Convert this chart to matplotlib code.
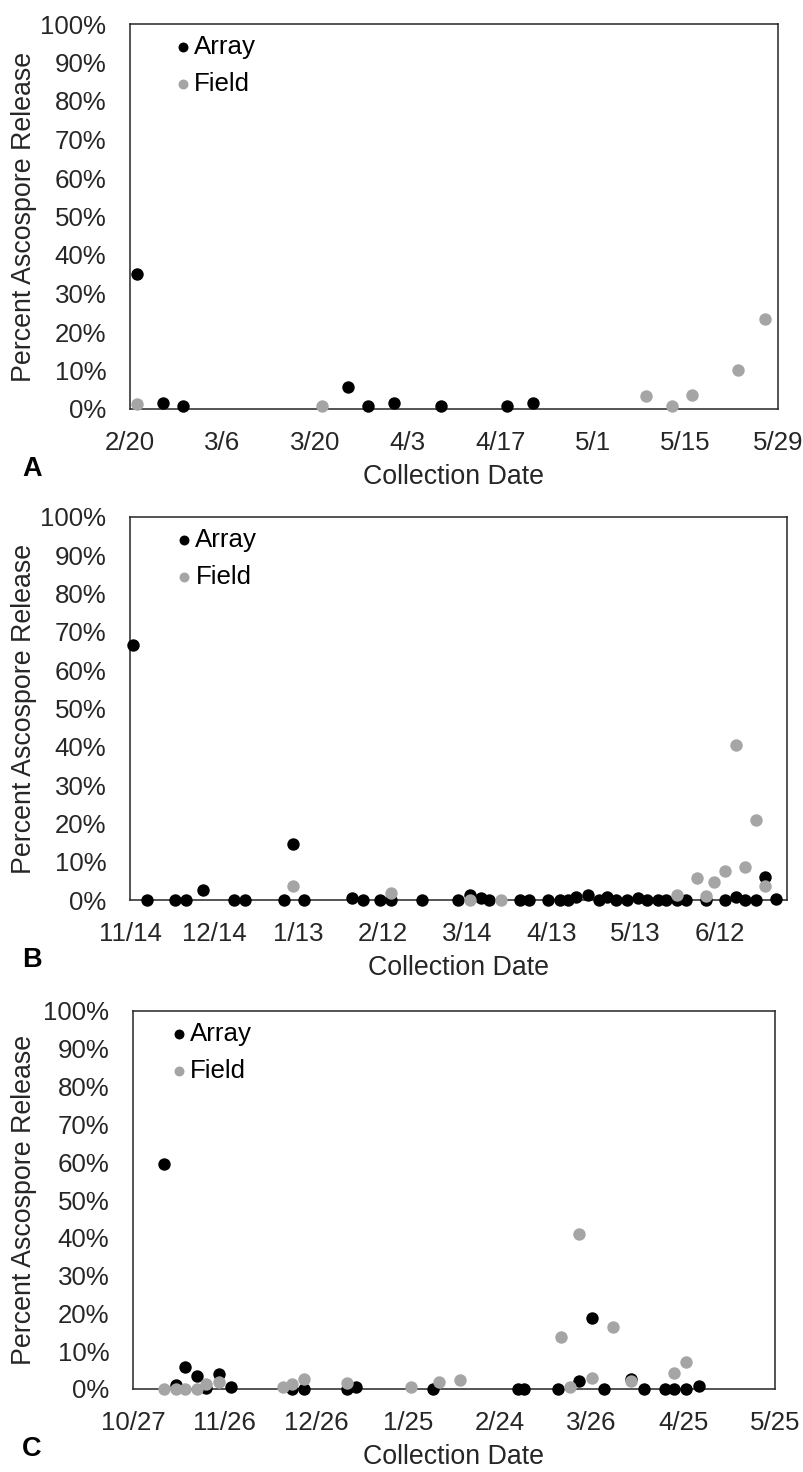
import datetime as dt
import numpy as np
import matplotlib
matplotlib.use('Agg')
import matplotlib.pyplot as plt
import matplotlib.dates as mdates
from matplotlib.ticker import FuncFormatter, MultipleLocator, PercentFormatter

plt.rcParams['font.family'] = ['Liberation Sans', 'DejaVu Sans']

W, H = 804, 1472
FS = 18.6        # tick labels / legend
FS_TITLE = 19.3  # axis titles
ARRAY_COLOR = 'black'
FIELD_COLOR = '#A5A5A5'
TEXT_COLOR = '#262626'

# ---- panel A ----
a_array_dates = ['2018-02-21', '2018-02-25', '2018-02-28', '2018-03-25', '2018-03-28',
                 '2018-04-01', '2018-04-08', '2018-04-18', '2018-04-22']
a_array_pct = [35.0, 1.6, 0.7, 5.6, 0.7, 1.6, 0.7, 0.7, 1.6]
a_field_dates = ['2018-02-21', '2018-03-21', '2018-05-09', '2018-05-13', '2018-05-16',
                 '2018-05-23', '2018-05-27']
a_field_pct = [1.2, 0.9, 3.4, 0.7, 3.7, 10.1, 23.4]

# ---- panel B ----
b_array_dates = ['2014-11-15', '2014-11-20', '2014-11-30', '2014-12-04', '2014-12-10',
                 '2014-12-21', '2014-12-25', '2015-01-08', '2015-01-11', '2015-01-15',
                 '2015-02-01', '2015-02-05', '2015-02-11', '2015-02-15', '2015-02-26',
                 '2015-03-11', '2015-03-15', '2015-03-19', '2015-03-22', '2015-04-02',
                 '2015-04-05', '2015-04-12', '2015-04-16', '2015-04-19', '2015-04-22',
                 '2015-04-26', '2015-04-30', '2015-05-03', '2015-05-06', '2015-05-10',
                 '2015-05-14', '2015-05-17', '2015-05-21', '2015-05-24', '2015-05-28',
                 '2015-05-31', '2015-06-07', '2015-06-14', '2015-06-18', '2015-06-21',
                 '2015-06-25', '2015-06-28', '2015-07-02']
b_array_pct = [66.5, 0, 0, 0, 2.7,
               0, 0, 0, 14.7, 0,
               0.4, 0, 0, 0, 0,
               0, 1.2, 0.4, 0, 0,
               0, 0, 0, 0, 0.9,
               1.3, 0, 0.7, 0, 0,
               0.5, 0, 0, 0, 0,
               0, 0, 0, 0.9, 0,
               0, 5.9, 0.2]
b_field_dates = ['2015-01-11', '2015-02-15', '2015-03-15', '2015-03-26', '2015-05-28',
                 '2015-06-04', '2015-06-07', '2015-06-10', '2015-06-14', '2015-06-18',
                 '2015-06-21', '2015-06-25', '2015-06-28']
b_field_pct = [3.6, 1.9, 0, 0, 1.4, 5.8, 1.1, 4.8, 7.6, 40.4, 8.5, 20.8, 3.6]

# ---- panel C ----
c_array_dates = ['2016-11-06', '2016-11-10', '2016-11-13', '2016-11-17', '2016-11-20',
                 '2016-11-24', '2016-11-28', '2016-12-18', '2016-12-22', '2017-01-05',
                 '2017-01-08', '2017-02-02', '2017-03-02', '2017-03-04', '2017-03-15',
                 '2017-03-22', '2017-03-26', '2017-03-30', '2017-04-08', '2017-04-12',
                 '2017-04-19', '2017-04-22', '2017-04-26', '2017-04-30']
c_array_pct = [59.4, 1.0, 5.8, 3.4, 0.2,
               4.1, 0.5, 0, 0, 0,
               0.6, 0, 0, 0, 0,
               2.1, 18.7, 0, 2.6, 0,
               0, 0, 0, 0.7]
c_field_dates = ['2016-11-06', '2016-11-10', '2016-11-13', '2016-11-17', '2016-11-20',
                 '2016-11-24', '2016-12-15', '2016-12-18', '2016-12-22', '2017-01-05',
                 '2017-01-26', '2017-02-04', '2017-02-11', '2017-03-16', '2017-03-19',
                 '2017-03-22', '2017-03-26', '2017-04-02', '2017-04-08', '2017-04-22',
                 '2017-04-26']
c_field_pct = [0, 0, 0, 0, 1.3,
               1.9, 0.6, 1.3, 2.7, 1.5,
               0.4, 1.8, 2.3, 13.7, 0.6,
               40.9, 3.0, 16.3, 2.0, 4.3,
               7.2]


def to_num(dates):
    return mdates.date2num([dt.datetime.strptime(d, '%Y-%m-%d') for d in dates])


def month_day(v, pos):
    d = mdates.num2date(v)
    return f'{d.month}/{d.day}'


fig = plt.figure(figsize=(W / 100, H / 100), dpi=100)


def panel(box, letter, start, end, step, arr_d, arr_p, fld_d, fld_p, leg_x):
    # box is (left, top, right, bottom) of the plot frame in pixels from the top-left
    left, top, right, bottom = box
    w, h = right - left, bottom - top
    ax = fig.add_axes([left / W, 1 - bottom / H, w / W, h / H])
    ax.scatter(to_num(arr_d), arr_p, s=80, color=ARRAY_COLOR, linewidths=0,
               clip_on=False, zorder=3, label='Array')
    ax.scatter(to_num(fld_d), fld_p, s=80, color=FIELD_COLOR, linewidths=0,
               clip_on=False, zorder=4, label='Field')

    x0, x1 = to_num([start, end])
    ax.set_xlim(x0, x1)
    ax.set_ylim(0, 100)
    ax.set_xticks(np.arange(x0, x1 + 0.5, step))
    ax.xaxis.set_major_formatter(FuncFormatter(month_day))
    ax.yaxis.set_major_locator(MultipleLocator(10))
    ax.yaxis.set_major_formatter(PercentFormatter(100, decimals=0))
    ax.tick_params(axis='both', length=0, labelsize=FS, colors=TEXT_COLOR)
    ax.tick_params(axis='y', pad=17)
    ax.tick_params(axis='x', pad=16)
    for sp in ax.spines.values():
        sp.set_color('#262626')
        sp.set_linewidth(1.1)

    ax.set_xlabel('Collection Date', fontsize=FS_TITLE, color=TEXT_COLOR)
    ax.xaxis.label.set_verticalalignment('center')
    ax.xaxis.set_label_coords(0.5, -68 / h)
    ax.set_ylabel('Percent Ascospore Release', fontsize=FS_TITLE, color=TEXT_COLOR)
    ax.yaxis.label.set_verticalalignment('center')
    ax.yaxis.set_label_coords((24 - left) / w, 0.5)

    ax.legend(loc='upper left', bbox_to_anchor=((leg_x - 7) / w, 1 - 11 / h),
              frameon=False, fontsize=FS, handlelength=0.6, handletextpad=0.15,
              labelspacing=0.5, borderpad=0, borderaxespad=0, markerscale=0.8,
              scatterpoints=1)

    fig.text(32 / W, 1 - (bottom + 60) / H, letter, fontsize=19.5, fontweight='bold',
             ha='center', va='center')
    return ax


panel((130, 24, 778, 409), 'A', '2018-02-20', '2018-05-29', 14,
      a_array_dates, a_array_pct, a_field_dates, a_field_pct, 52)
panel((130, 517, 787, 900), 'B', '2014-11-14', '2015-07-06', 30,
      b_array_dates, b_array_pct, b_field_dates, b_field_pct, 53)
panel((133, 1011, 775, 1389), 'C', '2016-10-27', '2017-05-25', 30,
      c_array_dates, c_array_pct, c_field_dates, c_field_pct, 45)

fig.savefig('out.png', dpi=100)
